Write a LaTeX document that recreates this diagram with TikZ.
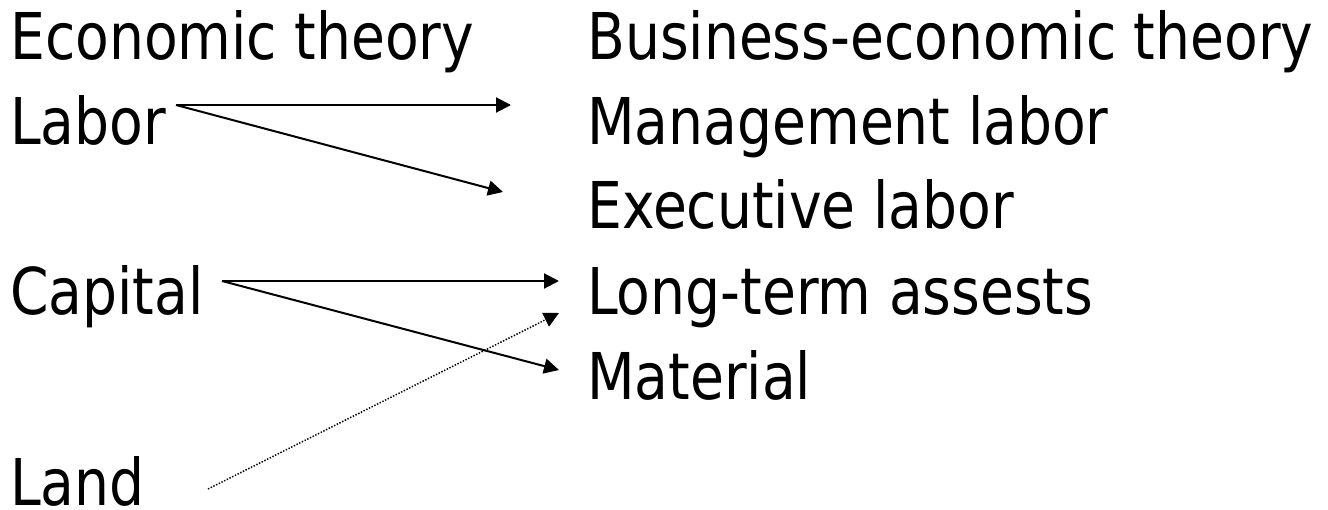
\documentclass[tikz,border=0pt]{standalone}
\usepackage{fontspec}
\setmainfont{DejaVu Sans}[FakeStretch=0.855]
\usetikzlibrary{arrows.meta,calc}
\begin{document}
\begin{tikzpicture}[x=1bp,y=-1bp,
  lbl/.style={anchor=base west,inner sep=0pt,font=\fontsize{64.5bp}{70bp}\selectfont},
  arr/.style={line width=2bp,-{Triangle[length=15bp,width=15bp]}},
  dotarr/.style={line width=1.5bp,dash pattern=on 1.4bp off 1.6bp,-{Triangle[length=15bp,width=15bp]}}]
\useasboundingbox (0,0) rectangle (1328,510);
% left column: classical factors
\node[lbl] (econ)    at (10,60)  {Economic theory};
\node[lbl] (labor)   at (10,145) {Labor};
\node[lbl] (capital) at (10,314) {Capital};
\node[lbl] (land)    at (10,505) {Land};
% right column: business-economic counterparts
\node[lbl] (bus)   at (587,60)  {Business-economic theory};
\node[lbl] (mgmt)  at (587,145) {Management labor};
\node[lbl] (exec)  at (587,229) {Executive labor};
\node[lbl] (lta)   at (587,314) {Long-term assests};
\node[lbl] (mat)   at (587,399) {Material};
% connectors
\draw[arr] ($(labor.base west)+(166,-40)$) -- ($(mgmt.base west)+(-76,-40)$);
\draw[arr] ($(labor.base west)+(166,-40)$) -- ($(exec.base west)+(-84,-37)$);
\draw[arr] ($(capital.base west)+(212,-33)$) -- ($(lta.base west)+(-28,-33)$);
\draw[arr] ($(capital.base west)+(212,-33)$) -- ($(mat.base west)+(-28,-29)$);
\draw[dotarr] ($(land.base west)+(198,-16)$) -- ($(lta.base west)+(-28,-1)$);
\end{tikzpicture}
\end{document}
